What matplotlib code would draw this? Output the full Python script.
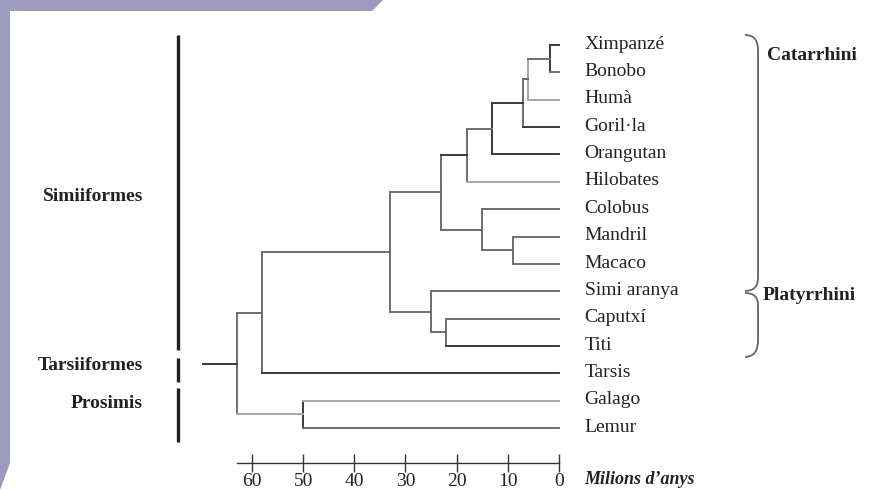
import matplotlib.pyplot as plt
from matplotlib.patches import Polygon, PathPatch
from matplotlib.path import Path

plt.rcParams['font.family'] = ['Liberation Serif', 'DejaVu Serif']

# leaves, top to bottom
species = ["Ximpanzé", "Bonobo", "Humà", "Goril·la", "Orangutan", "Hilobates",
           "Colobus", "Mandril", "Macaco", "Simi aranya", "Caputxí", "Titi",
           "Tarsis", "Galago", "Lemur"]

# internal nodes (children, age in My), listed from the tips down to the root
clades = [
    ("pan", ["Ximpanzé", "Bonobo"], 1.8),
    ("homininae", ["pan", "Humà"], 6),
    ("hominini", ["homininae", "Goril·la"], 7),
    ("hominidae", ["hominini", "Orangutan"], 13),
    ("hominoidea", ["hominidae", "Hilobates"], 18),
    ("papionini", ["Mandril", "Macaco"], 9),
    ("cercopith", ["Colobus", "papionini"], 15),
    ("catarrhini", ["hominoidea", "cercopith"], 23),
    ("callitrich", ["Caputxí", "Titi"], 22),
    ("platyrrhini", ["Simi aranya", "callitrich"], 25),
    ("simiiformes", ["catarrhini", "platyrrhini"], 33),
    ("haplorhini", ["simiiformes", "Tarsis"], 58),
    ("strepsirrhini", ["Galago", "Lemur"], 50),
    ("primates", ["haplorhini", "strepsirrhini"], 63),
]
root_stem = 69.5

ticks = [60, 50, 40, 30, 20, 10, 0]
axis_label = "Milions d’anys"

groups = ["Simiiformes", "Tarsiiformes", "Prosimis"]
group_spans = [(-0.37, 11.15), (11.44, 12.32), (12.54, 14.51)]
group_label_y = [5.55, 11.7, 13.1]

braces = ["Catarrhini", "Platyrrhini"]

dark, mid, light = "#3a3a3a", "#6e6e6e", "#a6a6a6"
hcol = {"Ximpanzé": dark, "Bonobo": mid, "pan": mid, "Humà": light,
        "homininae": mid, "Goril·la": dark, "hominini": dark, "Orangutan": dark,
        "hominidae": mid, "Hilobates": light, "hominoidea": dark,
        "Titi": dark, "Tarsis": dark, "Galago": light, "strepsirrhini": light}
vcol = {"pan": dark, "homininae": light, "hominini": mid, "hominidae": dark,
        "hominoidea": mid, "strepsirrhini": dark}

fig = plt.figure(figsize=(8.69, 4.93), dpi=100)
fig.patches.append(Polygon(
    [(0, 3 / 493), (0, 1), (383 / 869, 1), (372 / 869, 1 - 11 / 493),
     (10 / 869, 1 - 11 / 493), (10 / 869, 1 - 463 / 493)],
    closed=True, transform=fig.transFigure, facecolor="#9c9abd",
    edgecolor="none", zorder=0))

ax = fig.add_axes([0, 0, 1, 1])
ax.patch.set_visible(False)
ax.set_xlim(109.24, -60.58)
ax.set_ylim(16.376, -1.645)

lw = 1.4
y_of = {name: i for i, name in enumerate(species)}
age_of = {name: 0.0 for name in species}
for name, kids, age in clades:
    ys = [y_of[k] for k in kids]
    y_of[name] = sum(ys) / len(ys)
    age_of[name] = age
    ax.plot([age, age], [min(ys), max(ys)], color=vcol.get(name, mid), lw=lw)
    for k in kids:
        ax.plot([age, age_of[k]], [y_of[k], y_of[k]], color=hcol.get(k, mid), lw=lw)
ax.plot([root_stem, age_of["primates"]], [y_of["primates"]] * 2, color=dark, lw=lw)

for i, name in enumerate(species):
    ax.text(-5.0, i - 0.03, name, ha="left", va="center", fontsize=14, color="#222222")

# group bars on the left
for g, (y0, y1), ly in zip(groups, group_spans, group_label_y):
    ax.plot([74.5, 74.5], [y0, y1], color="#222222", lw=2.4, solid_capstyle="butt")
    ax.text(81.3, ly, g, ha="right", va="center", fontsize=14,
            fontweight="bold", color="#222222")

# braces on the right
xl, xh = -38.9, -36.35
brace_paths = [
    [(xh, -0.366), (xl, -0.366), (xl, 0.183), (xl, 8.517), (xl, 8.99), (xh, 8.99)],
    [(xh, 9.065), (xl, 9.065), (xl, 9.5), (xl, 10.78), (xl, 11.4), (xh, 11.4)],
]
codes = [Path.MOVETO, Path.CURVE3, Path.CURVE3, Path.LINETO, Path.CURVE3, Path.CURVE3]
for verts in brace_paths:
    ax.add_patch(PathPatch(Path(verts, codes), facecolor="none",
                           edgecolor="#666666", lw=1.3))
ax.text(-40.65, 0.37, braces[0], ha="left", va="center", fontsize=14,
        fontweight="bold", color="#222222")
ax.text(-39.87, 9.14, braces[1], ha="left", va="center", fontsize=14,
        fontweight="bold", color="#222222")

# time scale
for s in ["top", "left", "right"]:
    ax.spines[s].set_visible(False)
ax.spines["bottom"].set_position(("data", 15.28))
ax.spines["bottom"].set_bounds(0, 63)
ax.spines["bottom"].set_color("#333333")
ax.spines["bottom"].set_linewidth(1.0)
ax.set_xticks(ticks)
ax.set_xticklabels([str(t) for t in ticks])
ax.tick_params(axis="x", direction="inout", length=13, width=1.0,
               color="#333333", labelsize=14, labelcolor="#222222", pad=0.5)
ax.set_yticks([])
ax.text(-5.0, 15.9, axis_label, ha="left", va="center", fontsize=13,
        fontweight="bold", fontstyle="italic", color="#222222")

fig.savefig("out.png", dpi=100)
